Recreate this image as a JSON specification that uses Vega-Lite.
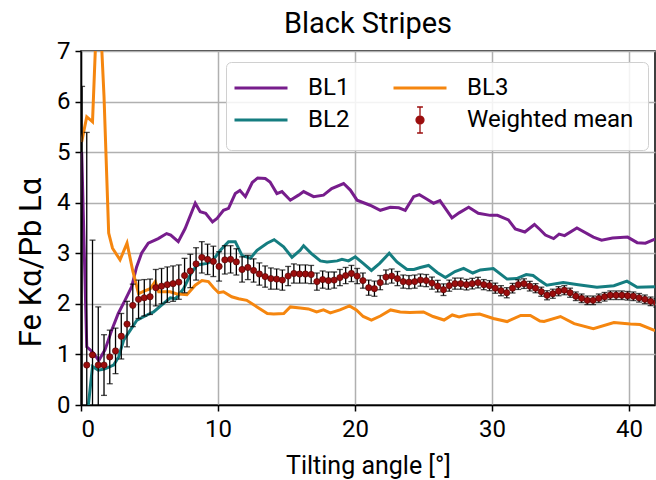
{
"$schema": "https://vega.github.io/schema/vega-lite/v6.json",
"width": 574, "height": 354,
"autosize": "none",
"padding": {"left": 81, "top": 51, "right": 1, "bottom": 75},
"background": "white",
"title": {"text": "Black Stripes", "fontSize": 29, "font": "Roboto", "fontWeight": "normal", "color": "black", "offset": 0, "anchor": "middle", "frame": "group"},
"config": {
  "font": "Roboto",
  "view": {"stroke": "black", "strokeWidth": 1.5},
  "axis": {"domainColor": "black", "domainWidth": 1.5, "tickColor": "black", "tickWidth": 1.5, "tickSize": 6, "gridColor": "#b0b0b0", "gridWidth": 1.5, "labelFontSize": 24, "labelColor": "black", "titleFontSize": 25, "titleColor": "black", "titleFontWeight": "normal", "labelFont": "Roboto", "titleFont": "Roboto"}
},
"datasets": {
"lines": [
{"s":"BL1","a":0.05,"v":5.0},{"s":"BL1","a":0.42,"v":1.15},{"s":"BL1","a":0.84,"v":1.05},{"s":"BL1","a":1.3,"v":0.88},{"s":"BL1","a":1.75,"v":1.09},{"s":"BL1","a":2.24,"v":1.48},{"s":"BL1","a":2.72,"v":1.81},{"s":"BL1","a":3.21,"v":2.07},{"s":"BL1","a":3.7,"v":2.34},{"s":"BL1","a":4.06,"v":2.73},{"s":"BL1","a":4.42,"v":3.0},{"s":"BL1","a":4.91,"v":3.2},{"s":"BL1","a":5.64,"v":3.29},{"s":"BL1","a":6.25,"v":3.39},{"s":"BL1","a":6.55,"v":3.36},{"s":"BL1","a":7.1,"v":3.23},{"s":"BL1","a":7.6,"v":3.49},{"s":"BL1","a":8.34,"v":3.99},{"s":"BL1","a":8.7,"v":3.82},{"s":"BL1","a":9.1,"v":3.79},{"s":"BL1","a":9.6,"v":3.62},{"s":"BL1","a":9.93,"v":3.69},{"s":"BL1","a":10.4,"v":3.85},{"s":"BL1","a":10.77,"v":3.89},{"s":"BL1","a":11.26,"v":4.18},{"s":"BL1","a":11.6,"v":4.24},{"s":"BL1","a":12.0,"v":4.12},{"s":"BL1","a":12.5,"v":4.4},{"s":"BL1","a":12.9,"v":4.49},{"s":"BL1","a":13.45,"v":4.48},{"s":"BL1","a":13.8,"v":4.41},{"s":"BL1","a":14.3,"v":4.18},{"s":"BL1","a":14.67,"v":4.22},{"s":"BL1","a":15.28,"v":4.05},{"s":"BL1","a":15.88,"v":4.15},{"s":"BL1","a":16.25,"v":4.22},{"s":"BL1","a":16.98,"v":4.12},{"s":"BL1","a":17.7,"v":4.15},{"s":"BL1","a":18.3,"v":4.28},{"s":"BL1","a":19.17,"v":4.38},{"s":"BL1","a":19.66,"v":4.25},{"s":"BL1","a":20.15,"v":4.05},{"s":"BL1","a":21.1,"v":3.95},{"s":"BL1","a":21.85,"v":3.85},{"s":"BL1","a":22.58,"v":3.91},{"s":"BL1","a":23.2,"v":3.9},{"s":"BL1","a":23.67,"v":3.85},{"s":"BL1","a":24.28,"v":4.12},{"s":"BL1","a":24.7,"v":4.16},{"s":"BL1","a":25.2,"v":4.08},{"s":"BL1","a":25.74,"v":3.99},{"s":"BL1","a":26.2,"v":4.04},{"s":"BL1","a":27.08,"v":3.7},{"s":"BL1","a":27.6,"v":3.8},{"s":"BL1","a":28.3,"v":3.91},{"s":"BL1","a":29.0,"v":3.79},{"s":"BL1","a":29.87,"v":3.75},{"s":"BL1","a":30.4,"v":3.75},{"s":"BL1","a":31.2,"v":3.66},{"s":"BL1","a":31.7,"v":3.48},{"s":"BL1","a":32.4,"v":3.42},{"s":"BL1","a":33.1,"v":3.57},{"s":"BL1","a":33.5,"v":3.47},{"s":"BL1","a":33.9,"v":3.36},{"s":"BL1","a":34.5,"v":3.29},{"s":"BL1","a":34.9,"v":3.38},{"s":"BL1","a":35.3,"v":3.35},{"s":"BL1","a":36.2,"v":3.5},{"s":"BL1","a":37.4,"v":3.32},{"s":"BL1","a":38.0,"v":3.26},{"s":"BL1","a":38.8,"v":3.3},{"s":"BL1","a":39.9,"v":3.32},{"s":"BL1","a":40.6,"v":3.21},{"s":"BL1","a":41.2,"v":3.2},{"s":"BL1","a":41.9,"v":3.28},
{"s":"BL2","a":0.42,"v":-0.3},{"s":"BL2","a":0.84,"v":0.76},{"s":"BL2","a":1.26,"v":0.69},{"s":"BL2","a":1.7,"v":0.71},{"s":"BL2","a":2.38,"v":0.79},{"s":"BL2","a":2.75,"v":0.95},{"s":"BL2","a":3.11,"v":1.28},{"s":"BL2","a":3.6,"v":1.48},{"s":"BL2","a":4.09,"v":1.68},{"s":"BL2","a":4.82,"v":1.78},{"s":"BL2","a":5.3,"v":1.84},{"s":"BL2","a":6.03,"v":2.01},{"s":"BL2","a":6.52,"v":2.12},{"s":"BL2","a":6.9,"v":2.1},{"s":"BL2","a":7.49,"v":2.3},{"s":"BL2","a":7.97,"v":2.57},{"s":"BL2","a":8.47,"v":2.77},{"s":"BL2","a":9.2,"v":2.8},{"s":"BL2","a":9.6,"v":2.85},{"s":"BL2","a":10.17,"v":3.06},{"s":"BL2","a":10.77,"v":3.23},{"s":"BL2","a":11.26,"v":3.23},{"s":"BL2","a":11.75,"v":2.96},{"s":"BL2","a":12.36,"v":2.9},{"s":"BL2","a":12.85,"v":3.06},{"s":"BL2","a":13.58,"v":3.2},{"s":"BL2","a":14.1,"v":3.27},{"s":"BL2","a":14.79,"v":3.13},{"s":"BL2","a":15.4,"v":2.92},{"s":"BL2","a":16.0,"v":3.06},{"s":"BL2","a":16.25,"v":3.15},{"s":"BL2","a":16.8,"v":3.0},{"s":"BL2","a":17.47,"v":2.85},{"s":"BL2","a":17.96,"v":2.83},{"s":"BL2","a":18.7,"v":2.85},{"s":"BL2","a":19.05,"v":2.88},{"s":"BL2","a":19.53,"v":2.85},{"s":"BL2","a":20.02,"v":2.93},{"s":"BL2","a":20.6,"v":2.8},{"s":"BL2","a":21.2,"v":2.66},{"s":"BL2","a":21.8,"v":2.8},{"s":"BL2","a":22.5,"v":3.0},{"s":"BL2","a":23.06,"v":2.83},{"s":"BL2","a":23.8,"v":2.68},{"s":"BL2","a":24.3,"v":2.68},{"s":"BL2","a":24.77,"v":2.72},{"s":"BL2","a":25.37,"v":2.76},{"s":"BL2","a":26.0,"v":2.62},{"s":"BL2","a":26.6,"v":2.52},{"s":"BL2","a":27.3,"v":2.64},{"s":"BL2","a":27.93,"v":2.7},{"s":"BL2","a":28.6,"v":2.61},{"s":"BL2","a":29.15,"v":2.67},{"s":"BL2","a":30.1,"v":2.7},{"s":"BL2","a":31.1,"v":2.49},{"s":"BL2","a":31.8,"v":2.5},{"s":"BL2","a":32.5,"v":2.58},{"s":"BL2","a":33.0,"v":2.56},{"s":"BL2","a":33.5,"v":2.46},{"s":"BL2","a":34.0,"v":2.37},{"s":"BL2","a":35.2,"v":2.42},{"s":"BL2","a":36.3,"v":2.38},{"s":"BL2","a":37.66,"v":2.33},{"s":"BL2","a":38.9,"v":2.36},{"s":"BL2","a":39.85,"v":2.45},{"s":"BL2","a":40.6,"v":2.33},{"s":"BL2","a":41.9,"v":2.34},
{"s":"BL3","a":0.05,"v":5.2},{"s":"BL3","a":0.42,"v":5.7},{"s":"BL3","a":0.84,"v":5.6},{"s":"BL3","a":1.26,"v":8.5},{"s":"BL3","a":1.68,"v":6.1},{"s":"BL3","a":2.02,"v":3.4},{"s":"BL3","a":2.3,"v":3.1},{"s":"BL3","a":2.85,"v":2.87},{"s":"BL3","a":3.36,"v":3.2},{"s":"BL3","a":3.78,"v":2.65},{"s":"BL3","a":4.2,"v":2.2},{"s":"BL3","a":4.6,"v":2.25},{"s":"BL3","a":5.06,"v":2.3},{"s":"BL3","a":5.42,"v":2.44},{"s":"BL3","a":5.67,"v":2.24},{"s":"BL3","a":6.5,"v":2.24},{"s":"BL3","a":6.96,"v":2.2},{"s":"BL3","a":7.73,"v":2.18},{"s":"BL3","a":8.34,"v":2.37},{"s":"BL3","a":8.83,"v":2.46},{"s":"BL3","a":9.3,"v":2.44},{"s":"BL3","a":9.68,"v":2.32},{"s":"BL3","a":10.04,"v":2.22},{"s":"BL3","a":10.4,"v":2.24},{"s":"BL3","a":11.0,"v":2.14},{"s":"BL3","a":11.5,"v":2.1},{"s":"BL3","a":12.1,"v":2.07},{"s":"BL3","a":12.85,"v":1.94},{"s":"BL3","a":13.6,"v":1.81},{"s":"BL3","a":14.06,"v":1.8},{"s":"BL3","a":14.8,"v":1.81},{"s":"BL3","a":15.28,"v":1.94},{"s":"BL3","a":16.0,"v":1.92},{"s":"BL3","a":16.6,"v":1.9},{"s":"BL3","a":17.2,"v":1.84},{"s":"BL3","a":17.7,"v":1.88},{"s":"BL3","a":18.2,"v":1.82},{"s":"BL3","a":18.9,"v":1.88},{"s":"BL3","a":19.6,"v":1.96},{"s":"BL3","a":20.1,"v":1.88},{"s":"BL3","a":20.6,"v":1.75},{"s":"BL3","a":21.2,"v":1.68},{"s":"BL3","a":21.85,"v":1.76},{"s":"BL3","a":22.6,"v":1.88},{"s":"BL3","a":23.3,"v":1.84},{"s":"BL3","a":24.0,"v":1.83},{"s":"BL3","a":25.0,"v":1.84},{"s":"BL3","a":25.7,"v":1.75},{"s":"BL3","a":26.5,"v":1.68},{"s":"BL3","a":27.1,"v":1.78},{"s":"BL3","a":27.6,"v":1.74},{"s":"BL3","a":28.2,"v":1.78},{"s":"BL3","a":29.1,"v":1.8},{"s":"BL3","a":30.1,"v":1.71},{"s":"BL3","a":31.1,"v":1.65},{"s":"BL3","a":32.1,"v":1.77},{"s":"BL3","a":32.8,"v":1.77},{"s":"BL3","a":33.5,"v":1.66},{"s":"BL3","a":33.8,"v":1.65},{"s":"BL3","a":35.0,"v":1.75},{"s":"BL3","a":36.0,"v":1.61},{"s":"BL3","a":37.4,"v":1.51},{"s":"BL3","a":38.9,"v":1.63},{"s":"BL3","a":40.1,"v":1.6},{"s":"BL3","a":40.8,"v":1.59},{"s":"BL3","a":41.9,"v":1.47}
],
"wm": [
{"a":0.08,"m":3.1,"e":3.2},
{"a":0.42,"m":0.79,"e":4.6},{"a":0.84,"m":0.99,"e":2.27},{"a":1.26,"m":0.79,"e":1.15},{"a":1.68,"m":0.79,"e":0.6},{"a":2.1,"m":0.95,"e":0.53},{"a":2.52,"m":1.07,"e":0.45},{"a":2.94,"m":1.36,"e":0.45},{"a":3.36,"m":1.6,"e":0.45},{"a":3.78,"m":1.97,"e":0.42},{"a":4.2,"m":2.09,"e":0.38},
{"a":4.62,"m":2.12,"e":0.36},{"a":5.04,"m":2.14,"e":0.35},{"a":5.46,"m":2.32,"e":0.36},{"a":5.88,"m":2.35,"e":0.35},{"a":6.3,"m":2.38,"e":0.35},{"a":6.72,"m":2.4,"e":0.35},{"a":7.14,"m":2.43,"e":0.34},{"a":7.56,"m":2.56,"e":0.34},{"a":7.98,"m":2.65,"e":0.33},{"a":8.4,"m":2.79,"e":0.32},
{"a":8.82,"m":2.92,"e":0.31},{"a":9.24,"m":2.88,"e":0.3},{"a":9.66,"m":2.84,"e":0.3},{"a":10.08,"m":2.74,"e":0.29},{"a":10.5,"m":2.87,"e":0.28},{"a":10.92,"m":2.88,"e":0.27},{"a":11.34,"m":2.83,"e":0.26},{"a":11.76,"m":2.68,"e":0.25},{"a":12.18,"m":2.72,"e":0.24},{"a":12.6,"m":2.66,"e":0.23},
{"a":13.02,"m":2.59,"e":0.22},{"a":13.44,"m":2.54,"e":0.21},{"a":13.86,"m":2.5,"e":0.21},{"a":14.28,"m":2.49,"e":0.2},{"a":14.7,"m":2.47,"e":0.2},{"a":15.12,"m":2.55,"e":0.19},{"a":15.54,"m":2.6,"e":0.19},{"a":15.96,"m":2.59,"e":0.18},{"a":16.38,"m":2.59,"e":0.18},{"a":16.8,"m":2.58,"e":0.18},
{"a":17.22,"m":2.44,"e":0.17},{"a":17.64,"m":2.48,"e":0.17},{"a":18.06,"m":2.46,"e":0.17},{"a":18.48,"m":2.47,"e":0.16},{"a":18.9,"m":2.52,"e":0.16},{"a":19.32,"m":2.56,"e":0.16},{"a":19.74,"m":2.6,"e":0.16},{"a":20.16,"m":2.55,"e":0.15},{"a":20.58,"m":2.46,"e":0.15},{"a":21.0,"m":2.32,"e":0.15},
{"a":21.42,"m":2.3,"e":0.15},{"a":21.84,"m":2.42,"e":0.14},{"a":22.26,"m":2.53,"e":0.14},{"a":22.68,"m":2.55,"e":0.14},{"a":23.1,"m":2.5,"e":0.14},{"a":23.52,"m":2.44,"e":0.13},{"a":23.94,"m":2.43,"e":0.13},{"a":24.36,"m":2.44,"e":0.13},{"a":24.78,"m":2.47,"e":0.12},{"a":25.2,"m":2.46,"e":0.12},
{"a":25.62,"m":2.41,"e":0.12},{"a":26.04,"m":2.35,"e":0.115},{"a":26.46,"m":2.28,"e":0.115},{"a":26.88,"m":2.36,"e":0.11},{"a":27.3,"m":2.4,"e":0.11},{"a":27.72,"m":2.4,"e":0.11},{"a":28.14,"m":2.38,"e":0.105},{"a":28.56,"m":2.4,"e":0.105},{"a":28.98,"m":2.42,"e":0.105},{"a":29.4,"m":2.38,"e":0.1},
{"a":29.82,"m":2.36,"e":0.1},{"a":30.24,"m":2.31,"e":0.1},{"a":30.66,"m":2.26,"e":0.1},{"a":31.08,"m":2.22,"e":0.1},{"a":31.5,"m":2.31,"e":0.095},{"a":31.92,"m":2.38,"e":0.095},{"a":32.34,"m":2.4,"e":0.095},{"a":32.76,"m":2.35,"e":0.095},{"a":33.18,"m":2.31,"e":0.09},{"a":33.6,"m":2.24,"e":0.09},
{"a":34.02,"m":2.17,"e":0.09},{"a":34.44,"m":2.2,"e":0.09},{"a":34.86,"m":2.25,"e":0.09},{"a":35.28,"m":2.27,"e":0.09},{"a":35.7,"m":2.22,"e":0.09},{"a":36.12,"m":2.15,"e":0.085},{"a":36.54,"m":2.11,"e":0.085},{"a":36.96,"m":2.07,"e":0.085},{"a":37.38,"m":2.07,"e":0.085},{"a":37.8,"m":2.11,"e":0.085},
{"a":38.22,"m":2.14,"e":0.085},{"a":38.64,"m":2.17,"e":0.085},{"a":39.06,"m":2.17,"e":0.085},{"a":39.48,"m":2.17,"e":0.085},{"a":39.9,"m":2.16,"e":0.085},{"a":40.32,"m":2.15,"e":0.085},{"a":40.74,"m":2.12,"e":0.085},{"a":41.16,"m":2.09,"e":0.085},{"a":41.58,"m":2.05,"e":0.085},{"a":42.0,"m":2.02,"e":0.085}
]
},
"layer": [
{
  "data": {"name": "lines"},
  "mark": {"type": "line", "strokeWidth": 3, "clip": true},
  "encoding": {
    "x": {"field": "a", "type": "quantitative", "title": "Tilting angle [°]", "scale": {"domain": [0, 41.9], "nice": false, "zero": false}, "axis": {"values": [0,10,20,30,40], "labelPadding": 6, "titlePadding": 12}},
    "y": {"field": "v", "type": "quantitative", "title": "Fe Kα/Pb Lα", "scale": {"domain": [0, 7], "nice": false}, "axis": {"values": [0,1,2,3,4,5,6,7], "labelPadding": 5, "titleFontSize": 31, "titleX": -50, "titleY": 211, "titleAlign": "center", "titleBaseline": "middle", "titleAngle": -90}},
    "color": {"field": "s", "type": "nominal",
      "scale": {"domain": ["BL1","BL2","BL3","Weighted mean"], "range": ["#771d8c","#157d80","#f5860f","#9b0d0d"]},
      "legend": {"title": null, "orient": "none", "legendX": 145, "legendY": 11, "columns": 2, "symbolType": "stroke", "symbolSize": 2809, "symbolStrokeWidth": 3, "symbolOffset": 9, "labelFontSize": 24, "labelFont": "Roboto", "labelColor": "black", "labelLimit": 0, "labelOffset": 35, "columnPadding": 37, "rowPadding": 4, "padding": 14, "fillColor": "rgba(255,255,255,0.85)", "strokeColor": "#d0d0d0", "cornerRadius": 5,
        "encode": {"symbols": {"update": {
          "size": {"value": 2809},
          "shape": {"signal": "datum.value === 'Weighted mean' ? 'M0,-0.49L0,0.49M-0.11,-0.49L0.11,-0.49M-0.11,0.49L0.11,0.49M-0.15,0A0.15,0.15,0,1,0,0.15,0A0.15,0.15,0,1,0,-0.15,0Z' : 'stroke'"},
          "fill": {"signal": "datum.value === 'Weighted mean' ? '#9b0d0d' : 'transparent'"},
          "stroke": {"signal": "datum.value === 'Weighted mean' ? 'black' : scale('color', datum.value)"},
          "strokeWidth": {"signal": "datum.value === 'Weighted mean' ? 1.3 : 3"}
        }}}
      }
    }
  }
},
{
  "data": {"name": "wm"},
  "mark": {"type": "errorbar", "ticks": true, "color": "black", "thickness": 1.3, "size": 6, "clip": true},
  "encoding": {
    "x": {"field": "a", "type": "quantitative", "title": "Tilting angle [°]"},
    "y": {"field": "m", "type": "quantitative", "title": "Fe Kα/Pb Lα"},
    "yError": {"field": "e"}
  }
},
{
  "data": {"name": "wm"},
  "transform": [{"filter": "datum.a > 0.2"}],
  "mark": {"type": "circle", "color": "#9b0d0d", "size": 40, "opacity": 1, "stroke": "#4a0000", "strokeWidth": 0.6, "clip": true},
  "encoding": {
    "x": {"field": "a", "type": "quantitative", "title": "Tilting angle [°]"},
    "y": {"field": "m", "type": "quantitative", "title": "Fe Kα/Pb Lα"}
  }
}
]
}
